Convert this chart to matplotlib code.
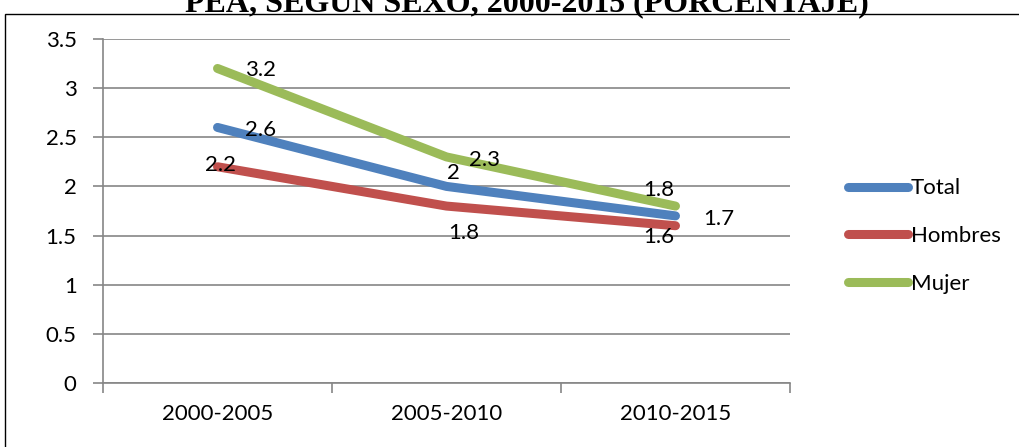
import matplotlib
matplotlib.use("Agg")
import matplotlib.pyplot as plt
from matplotlib.patches import Rectangle

categories = ["2000-2005", "2005-2010", "2010-2015"]
total = [2.6, 2.0, 1.7]
hombres = [2.2, 1.8, 1.6]
mujer = [3.2, 2.3, 1.8]
yticks = [0, 0.5, 1, 1.5, 2, 2.5, 3, 3.5]

# label offsets in pixels (dx, dy) per point
total_off = [(43, -3), (7, 13), (43, -3)]
hombres_off = [(3, 2), (17, -27), (-17, -11)]
mujer_off = [(43, -2), (38, -3), (-17, 16)]

plt.rcParams["font.family"] = ["Lato", "DejaVu Sans"]
FS = 16

fig = plt.figure(figsize=(10.2, 4.47), dpi=100)
ax = fig.add_axes([0.101, 0.1432, 0.6735, 0.7696])

grid_c = "#868686"
x = list(range(len(categories)))
series = [
    ("Total", total, "#4F81BD", total_off),
    ("Hombres", hombres, "#C0504D", hombres_off),
    ("Mujer", mujer, "#9BBB59", mujer_off),
]
for name, vals, color, offs in series:
    ax.plot(x, vals, color=color, lw=6.5, solid_capstyle="round", label=name, zorder=3)
for name, vals, color, offs in series:
    for xi, v, (dx, dy) in zip(x, vals, offs):
        ax.annotate(f"{v:g}", (xi, v), xytext=(dx, dy), textcoords="offset pixels",
                    ha="center", va="center", fontsize=FS, color="black", zorder=4)

ax.set_xlim(-0.5, 2.5)
ax.set_ylim(0, 3.5)
ax.set_yticks(yticks)
ax.set_yticklabels([f"{t:g}" for t in yticks], fontsize=FS)
ax.yaxis.grid(True, color=grid_c, lw=1.2)
ax.set_axisbelow(True)

ax.set_xticks(x)
ax.set_xticklabels(categories, fontsize=FS)
ax.tick_params(axis="x", length=0, pad=15)
ax.set_xticks([-0.5, 0.5, 1.5, 2.5], minor=True)
ax.tick_params(axis="x", which="minor", length=7, color=grid_c, width=1.2)
ax.tick_params(axis="y", length=7, color=grid_c, width=1.2, pad=12)

for s in ["top", "right"]:
    ax.spines[s].set_visible(False)
for s in ["left", "bottom"]:
    ax.spines[s].set_color(grid_c)
    ax.spines[s].set_linewidth(1.2)

ax.legend(loc="center left", bbox_to_anchor=(1.056, 0.427), frameon=False,
          fontsize=FS, handlelength=2.7, handletextpad=0.1, labelspacing=1.25)

# chart border box
fig.patches.append(Rectangle((5 / 1020, -0.1), 1.2, 1 - 14 / 447 + 0.1,
                             transform=fig.transFigure, fill=False,
                             edgecolor="black", lw=1))

fig.text(527 / 1020, 1 - 12 / 447, "PEA, SEGÚN SEXO, 2000-2015 (PORCENTAJE)",
         ha="center", va="baseline", fontsize=23, fontweight="bold",
         family="Liberation Serif")

fig.savefig("out.png", dpi=100)
